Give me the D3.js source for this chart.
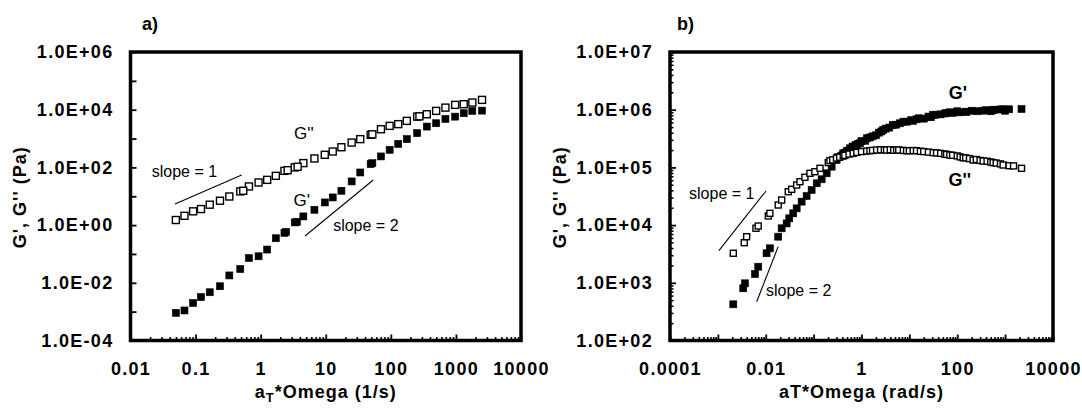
<!DOCTYPE html>
<html><head><meta charset="utf-8">
<script src="https://cdn.jsdelivr.net/npm/d3@7"></script>
<style>
body{margin:0;background:#fff;}
svg text{font-family:"Liberation Sans",Arial,sans-serif;fill:#000;}
</style>
</head><body>
<svg id="chart" width="1082" height="411"></svg>
<script>
// ---------- Panel a data ----------
const aFreq = [0.0498,0.0675,0.0916,0.121,0.165,0.237,0.330,0.486,0.660,0.929,1.26,1.71,2.32,3.34,4.53,6.70,9.66,12.8,17.4,25.0,33.9,49.0,70.5,95.9,130,176,254,357,497,690,973,1318,1786,2518];
const aGdd = [1.5,2.1,3.0,3.6,5.1,7.0,9.8,14.7,21.9,30,37,51,76,100,141,204,273,355,500,726,955,1350,2100,2750,3160,4100,5750,6950,9100,11800,14700,15500,17700,21900];
const aGd  = [9.1e-4,1.1e-3,2.0e-3,3.2e-3,4.7e-3,7.6e-3,0.018,0.030,0.072,0.083,0.142,0.35,0.54,1.24,2.0,3.4,6.1,9.1,15.5,32.6,66.7,130,240,408,655,955,1540,2600,3400,4800,5750,7550,9100,9300];
const aDupFreq = [0.54,2.6,3.7,52,275];
const aDupGdd  = [15.5,80,105,1400,5900];
const aDupGdFreq = [2.45,3.6,52];
const aDupGd     = [0.58,1.3,140];
const aXTicks = [0.01,0.1,1,10,100,1000,10000];
const aXTickLabels = ["0.01","0.1","1","10","100","1000","10000"];
const aYTicks = [1e-4,1e-2,1,1e2,1e4,1e6];
const aYTickLabels = ["1.0E-04","1.0E-02","1.0E+00","1.0E+02","1.0E+04","1.0E+06"];
const aSlope1X = [0.0483,0.51], aSlope1Y = [5.4,54.6];
const aSlope2X = [4.8,53.7],    aSlope2Y = [0.42,36.6];

// ---------- Panel b data ----------
const bFreqGdd = [0.0021,0.00356,0.00399,0.00624,0.00697,0.0113,0.0122,0.0182,0.0215,0.0295,0.0348,0.0442,0.0518,0.0658,0.0838,0.106,0.136,0.202,0.219,0.25,0.30,0.35,0.415,0.45,0.55,0.671,0.8,1.0,1.28,1.5,1.7,2.07,2.5,3.0,3.34,4.0,4.7,5.41,6.0,7.5,8.75,10,12,14.1,17,20,25,31.4,37,45,55,60,70.1,80,100,115,133,150,180,215,250,300,347,420,500,561,650,800,908,1213,1500,2200];
const bGdd = [3250,4960,6300,8810,9640,14400,16000,22300,27200,37900,41700,49500,56500,67300,79000,84200,96400,121000,131000,135000,145000,150000,158000,162000,170000,175000,182000,188000,192000,195000,197000,200000,202000,201000,200000,203000,198000,200000,200000,197000,195000,194000,196000,195000,190000,188000,184000,180000,178000,175000,170000,168000,164000,162000,158000,152000,147000,146000,142000,134000,137000,132000,129000,128000,124000,121000,119000,115000,110000,107000,106000,96400];
const bFreqGd = [0.0021,0.00339,0.00368,0.00596,0.00697,0.0104,0.0122,0.0182,0.0215,0.0273,0.031,0.0375,0.0442,0.0561,0.0714,0.0908,0.116,0.147,0.187,0.238,0.302,0.32,0.38,0.415,0.45,0.5,0.573,0.65,0.75,0.85,0.927,1.0,1.2,1.3,1.5,1.7,2.0,2.3,2.6,2.84,3.2,3.8,4.5,5.3,6.34,7.5,9,11,12,14.1,16,20,25,28,31.4,35,45,55,60,70.1,80,100,110,150,156,200,260,347,400,500,561,600,800,908,1000,1213,2200];
const bGd = [424,803,980,1420,1900,3250,3960,6300,8810,10700,13100,16000,19500,25500,31900,40600,53000,62200,79000,103000,134000,150000,160000,175000,180000,195000,214000,230000,245000,255000,262000,285000,290000,320000,330000,345000,360000,400000,420000,445000,470000,490000,540000,550000,581000,620000,620000,660000,640000,682000,710000,700000,760000,740000,809000,820000,830000,860000,880000,902000,880000,940000,900000,920000,923000,960000,940000,961000,980000,940000,988000,1000000,1010000,1016000,960000,1016000,1028000];
const bXTicks = [1e-4,1e-2,1,1e2,1e4];
const bXTickLabels = ["0.0001","0.01","1","100","10000"];
const bYTicks = [1e2,1e3,1e4,1e5,1e6,1e7];
const bYTickLabels = ["1.0E+02","1.0E+03","1.0E+04","1.0E+05","1.0E+06","1.0E+07"];
const bSlope1X = [0.00105,0.0101], bSlope1Y = [3600,39000];
const bSlope2X = [0.00646,0.0182], bSlope2Y = [470,4230];

const svg = d3.select("#chart");
const LS = "1.3px";

function drawPanel(cfg){
  const g = svg.append("g");
  const x = d3.scaleLog().domain(cfg.xDomain).range([cfg.left,cfg.right]);
  const y = d3.scaleLog().domain(cfg.yDomain).range([cfg.bottom,cfg.top]);

  const isDec = v => Math.abs(Math.log10(v) - Math.round(Math.log10(v))) <= 1e-6;
  const xMinor = x.ticks().filter(v => !isDec(v));
  const yMinor = y.ticks().filter(v => !isDec(v));
  const xMajor = x.ticks().filter(isDec);
  const yMajor = y.ticks().filter(isDec);

  g.append("g").attr("transform",`translate(0,${cfg.bottom})`)
    .call(d3.axisBottom(x).tickValues(xMinor).tickFormat("").tickSizeInner(-3.5).tickSizeOuter(0))
    .call(s=>{s.select(".domain").remove(); s.selectAll("line").attr("stroke","#000").attr("stroke-width",1.6);});
  g.append("g").attr("transform",`translate(${cfg.left},0)`)
    .call(d3.axisLeft(y).tickValues(yMinor).tickFormat("").tickSizeInner(-3.5).tickSizeOuter(0))
    .call(s=>{s.select(".domain").remove(); s.selectAll("line").attr("stroke","#000").attr("stroke-width",1.6);});

  const xl = new Map(cfg.xTicks.map((v,i)=>[Math.round(Math.log10(v)),cfg.xLabels[i]]));
  const yl = new Map(cfg.yTicks.map((v,i)=>[Math.round(Math.log10(v)),cfg.yLabels[i]]));
  g.append("g").attr("transform",`translate(0,${cfg.bottom})`)
    .call(d3.axisBottom(x).tickValues(xMajor).tickFormat(v=>xl.get(Math.round(Math.log10(v)))||"").tickSizeInner(-6).tickSizeOuter(0).tickPadding(22))
    .call(s=>{s.select(".domain").remove(); s.selectAll("line").attr("stroke","#000").attr("stroke-width",1.8);
      s.selectAll("text").attr("font-size",18).attr("font-weight","bold").style("letter-spacing",LS);});
  g.append("g").attr("transform",`translate(${cfg.left},0)`)
    .call(d3.axisLeft(y).tickValues(yMajor).tickFormat(v=>yl.get(Math.round(Math.log10(v)))||"").tickSizeInner(-6).tickSizeOuter(0).tickPadding(17))
    .call(s=>{s.select(".domain").remove(); s.selectAll("line").attr("stroke","#000").attr("stroke-width",1.8);
      s.selectAll("text").attr("font-size",18).attr("font-weight","bold").style("letter-spacing",LS);});

  g.append("rect").attr("x",cfg.left).attr("y",cfg.top)
    .attr("width",cfg.right-cfg.left).attr("height",cfg.bottom-cfg.top)
    .attr("fill","none").attr("stroke","#000").attr("stroke-width",3.5);

  const line = d3.line().x(d=>x(d[0])).y(d=>y(d[1]));
  cfg.slopes.forEach(sl=>{
    g.append("path").attr("d",line(d3.zip(sl.xs,sl.ys))).attr("stroke","#000").attr("stroke-width",1.1).attr("fill","none");
  });

  cfg.series.forEach(se=>{
    const s = se.size;
    g.append("g").selectAll("rect").data(d3.zip(se.xs,se.ys)).join("rect")
      .attr("x",d=>x(d[0])-s/2).attr("y",d=>y(d[1])-s/2).attr("width",s).attr("height",s)
      .attr("fill",se.filled?"#000":"#fff").attr("stroke","#000").attr("stroke-width",se.filled?0.6:1.4);
  });

  cfg.notes.forEach(n=>{
    g.append("text").attr("x",x(n.x)).attr("y",y(n.y)).attr("dominant-baseline","central")
      .attr("text-anchor",n.anchor||"start").attr("font-size",n.size).attr("font-weight",n.bold?"bold":"normal")
      .text(n.t);
  });

  const cx = (cfg.left+cfg.right)/2;
  const xt = g.append("text").attr("x",cx).attr("y",398).attr("text-anchor","middle")
    .attr("font-size",18).attr("font-weight","bold").style("letter-spacing","1px");
  cfg.xTitle.forEach(p=>{
    xt.append("tspan").attr("font-size",p.sub?13:18).attr("dy",p.sub?4:(p.after?-4:0)).text(p.t);
  });
  g.append("text").attr("transform",`translate(${cfg.yTitleX},${(cfg.top+cfg.bottom)/2+1}) rotate(-90)`)
    .attr("text-anchor","middle").attr("dominant-baseline","central")
    .attr("font-size",18).attr("font-weight","bold").style("letter-spacing","1px").text(cfg.yTitle);
  g.append("text").attr("x",cfg.panelX).attr("y",24).attr("dominant-baseline","central")
    .attr("font-size",18).attr("font-weight","bold").text(cfg.panel);
}

drawPanel({
  left:130.5,right:521,top:52,bottom:340.5,
  xDomain:[0.01,10000], yDomain:[1e-4,1e6],
  xTicks:aXTicks,xLabels:aXTickLabels,yTicks:aYTicks,yLabels:aYTickLabels,
  series:[
    {xs:aFreq,ys:aGd,filled:true,size:7},{xs:aDupGdFreq,ys:aDupGd,filled:true,size:7},
    {xs:aFreq,ys:aGdd,filled:false,size:7},{xs:aDupFreq,ys:aDupGdd,filled:false,size:7}
  ],
  slopes:[{xs:aSlope1X,ys:aSlope1Y},{xs:aSlope2X,ys:aSlope2Y}],
  notes:[
    {t:"slope = 1",x:0.0212,y:71,size:16},
    {t:"slope = 2",x:13.0,y:1.0,size:16},
    {t:"G''",x:3.25,y:1440,size:17},
    {t:"G'",x:3.2,y:7.4,size:17}
  ],
  xTitle:[{t:"a"},{t:"T",sub:true},{t:"*Omega (1/s)",after:true}],
  yTitle:"G', G'' (Pa)", yTitleX:20,
  panel:"a)", panelX:142
});

drawPanel({
  left:670,right:1053,top:52,bottom:340.5,
  xDomain:[1e-4,1e4], yDomain:[1e2,1e7],
  xTicks:bXTicks,xLabels:bXTickLabels,yTicks:bYTicks,yLabels:bYTickLabels,
  series:[
    {xs:bFreqGd,ys:bGd,filled:true,size:7},
    {xs:bFreqGdd,ys:bGdd,filled:false,size:6}
  ],
  slopes:[{xs:bSlope1X,ys:bSlope1Y},{xs:bSlope2X,ys:bSlope2Y}],
  notes:[
    {t:"slope = 1",x:0.000250,y:34600,size:16},
    {t:"slope = 2",x:0.0101,y:750,size:16},
    {t:"G'",x:103,y:1.95e6,size:18,bold:true,anchor:"middle"},
    {t:"G''",x:113,y:60500,size:18,bold:true,anchor:"middle"}
  ],
  xTitle:[{t:"aT*Omega (rad/s)"}],
  yTitle:"G', G'' (Pa)", yTitleX:560,
  panel:"b)", panelX:677
});
</script>
</body></html>
